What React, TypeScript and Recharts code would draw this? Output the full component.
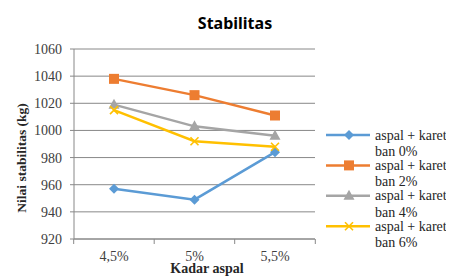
import React from 'react';
import { LineChart, Line, XAxis, YAxis, CartesianGrid, Legend, Label } from 'recharts';

const categories = ['4,5%', '5%', '5,5%'];
const ban0 = [957, 949, 984];
const ban2 = [1038, 1026, 1011];
const ban4 = [1019, 1003, 996];
const ban6 = [1015, 992, 988];
const yTicks = [920, 940, 960, 980, 1000, 1020, 1040, 1060];
const seriesLabels = ['ban 0%', 'ban 2%', 'ban 4%', 'ban 6%'];
const seriesKeys = ['b0', 'b2', 'b4', 'b6'];
const colors = ['#5B9BD5', '#ED7D31', '#A5A5A5', '#FFC000'];
const shapes = ['diamond', 'square', 'triangle', 'x'];

const data = categories.map((c, i) => ({
  cat: c,
  b0: ban0[i],
  b2: ban2[i],
  b4: ban4[i],
  b6: ban6[i],
}));

const GRID = '#888888';
const SERIF = '"Liberation Serif", "Times New Roman", serif';

function Marker({ cx, cy, shape, color }: any) {
  if (cx == null || cy == null) return null;
  switch (shape) {
    case 'diamond':
      return <polygon points={`${cx},${cy - 5} ${cx + 5},${cy} ${cx},${cy + 5} ${cx - 5},${cy}`} fill={color} />;
    case 'square':
      return <rect x={cx - 5} y={cy - 5} width={10} height={10} fill={color} />;
    case 'triangle':
      return <polygon points={`${cx},${cy - 6} ${cx + 5.5},${cy + 4} ${cx - 5.5},${cy + 4}`} fill={color} />;
    default:
      return (
        <g stroke={color} strokeWidth={1.6}>
          <line x1={cx - 4} y1={cy - 4} x2={cx + 4} y2={cy + 4} />
          <line x1={cx - 4} y1={cy + 4} x2={cx + 4} y2={cy - 4} />
        </g>
      );
  }
}

const HALF_BAND = 40.3;

function XTick(props: any) {
  const { x, y, payload, index } = props;
  return (
    <g>
      <line x1={x - HALF_BAND} x2={x - HALF_BAND} y1={y} y2={y + 5} stroke={GRID} />
      {index === categories.length - 1 && (
        <line x1={x + HALF_BAND} x2={x + HALF_BAND} y1={y} y2={y + 5} stroke={GRID} />
      )}
      <text x={x} y={y + 22} textAnchor="middle" fontFamily={SERIF} fontSize={14} fill="#404040">
        {payload.value}
      </text>
    </g>
  );
}

function LegendContent() {
  return (
    <svg width={134} height={130} style={{ display: 'block', overflow: 'visible' }}>
      {seriesKeys.map((k, i) => {
        const ly = 15 + 30.4 * i;
        return (
          <g key={k}>
            <line x1={4} x2={48} y1={ly} y2={ly} stroke={colors[i]} strokeWidth={2.5} />
            <Marker cx={27} cy={ly} shape={shapes[i]} color={colors[i]} />
            <text x={53} y={ly + 4.5} fontFamily={SERIF} fontSize={14} fill="#262626">aspal + karet</text>
            <text x={53} y={ly + 21} fontFamily={SERIF} fontSize={14} fill="#262626">{seriesLabels[i]}</text>
          </g>
        );
      })}
    </svg>
  );
}

export default function App() {
  return (
    <div style={{ position: 'relative', width: 454, height: 279, margin: '-8px 0 0 -8px', background: '#fff' }}>
      <div style={{ position: 'absolute', left: 6, top: 0, width: 1, height: 279, background: '#a0a0a0' }} />
      <div
        style={{
          position: 'absolute',
          left: 0,
          top: 13,
          width: 470,
          textAlign: 'center',
          fontFamily: '"Noto Sans", sans-serif',
          fontWeight: 700,
          fontSize: 16,
          color: '#000',
          lineHeight: '20px',
        }}
      >
        Stabilitas
      </div>
      <LineChart width={454} height={279} data={data} margin={{ top: 49, right: 5, left: 34, bottom: 10 }}>
        <CartesianGrid horizontal vertical={false} stroke={GRID} strokeWidth={1} />
        <XAxis
          dataKey="cat"
          padding={{ left: 40, right: 40 }}
          height={30}
          axisLine={{ stroke: GRID }}
          tickLine={false}
          tickSize={0}
          tickMargin={0}
          tick={<XTick />}
          interval={0}
        >
          <Label
            content={() => (
              <text x={207} y={273} textAnchor="middle" fontFamily={SERIF} fontWeight={700} fontSize={14} fill="#262626">
                Kadar aspal
              </text>
            )}
          />
        </XAxis>
        <YAxis
          width={40}
          domain={[920, 1060]}
          ticks={yTicks}
          interval={0}
          axisLine={{ stroke: GRID }}
          tickLine={{ stroke: GRID }}
          tickSize={4}
          tickMargin={8}
          tick={{ fontFamily: SERIF, fontSize: 14, fill: '#404040' }}
        >
          <Label
            content={() => (
              <text
                x={21}
                y={158}
                transform="rotate(-90 21 158)"
                textAnchor="middle"
                dominantBaseline="central"
                fontFamily={SERIF}
                fontWeight={700}
                fontSize={13.5}
                fill="#262626"
              >
                Nilai stabilitas (kg)
              </text>
            )}
          />
        </YAxis>
        <Legend
          layout="vertical"
          align="right"
          verticalAlign="middle"
          content={<LegendContent />}
          wrapperStyle={{ position: 'absolute', left: 322, top: 120, width: 134, height: 130 }}
        />
        {seriesKeys.map((k, i) => (
          <Line
            key={k}
            dataKey={k}
            stroke={colors[i]}
            strokeWidth={2.5}
            isAnimationActive={false}
            dot={(p: any) => <Marker key={`${k}-${p.index}`} cx={p.cx} cy={p.cy} shape={shapes[i]} color={colors[i]} />}
            activeDot={false}
          />
        ))}
      </LineChart>
    </div>
  );
}
